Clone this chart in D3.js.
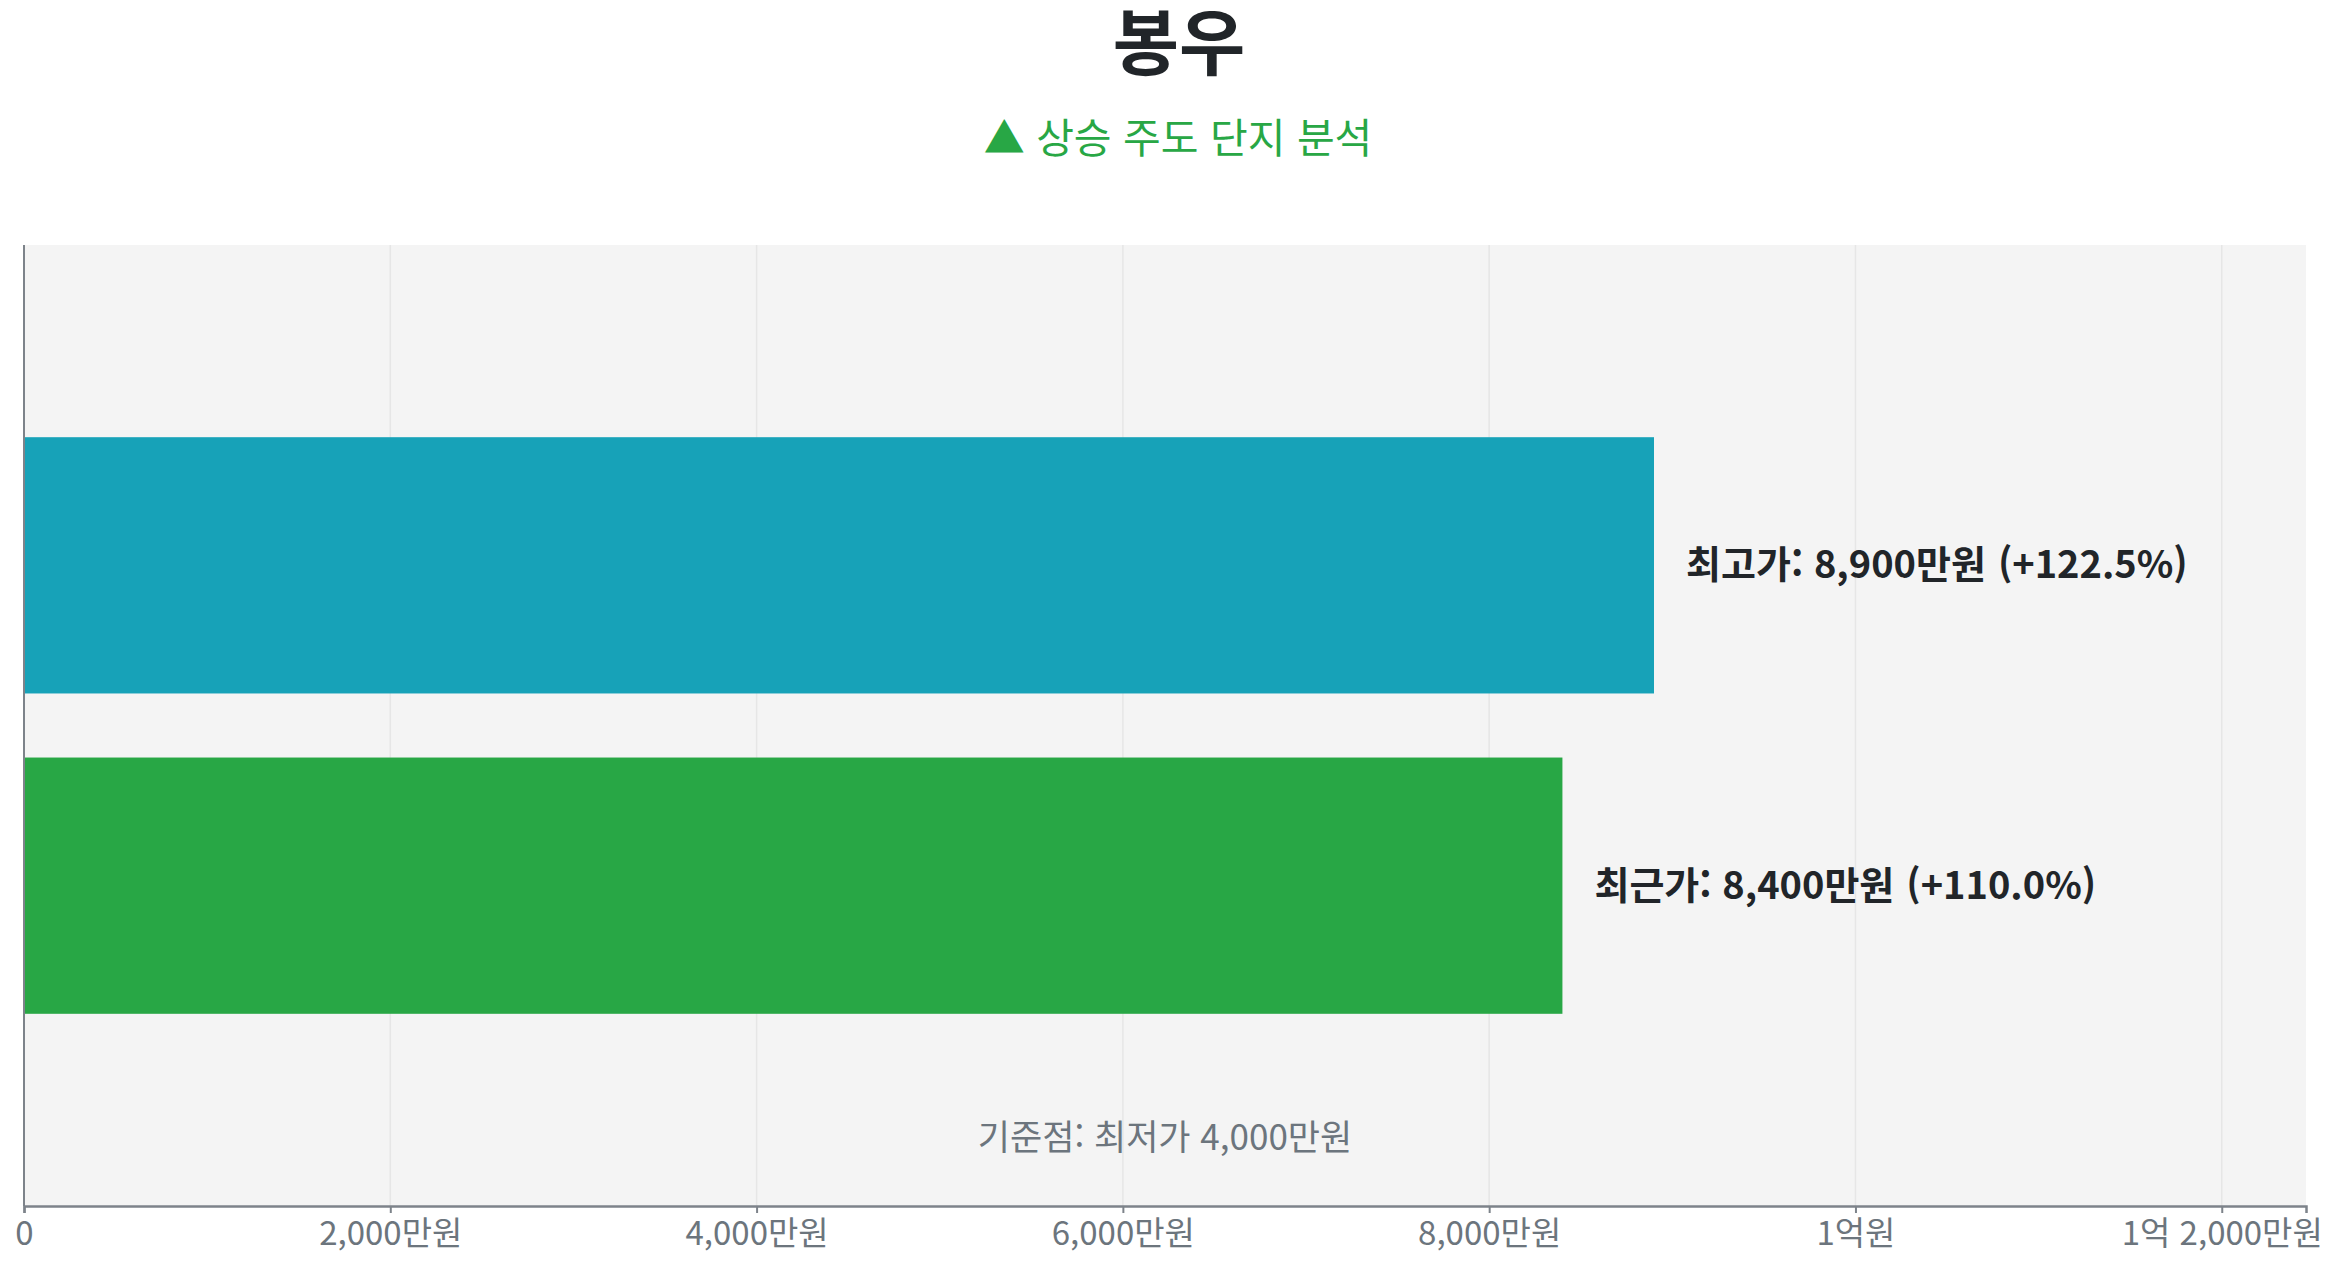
<!DOCTYPE html>
<html lang="ko">
<head>
<meta charset="utf-8">
<script src="https://cdn.jsdelivr.net/npm/d3@7"></script>
<style>
  html, body { margin: 0; padding: 0; background: #ffffff; }
  svg { display: block; }
  text { font-family: "Noto Sans CJK KR", "Noto Sans", sans-serif; }
</style>
</head>
<body>
<svg id="chart" width="2342" height="1268"></svg>
<script>
// ---- data ----
const titleText = "봉우";
const subtitleText = "▲ 상승 주도 단지 분석";
const categories = ["최고가", "최근가"];
const values = [8900, 8400];
const barColors = ["#17a2b8", "#28a745"];
const baseLabel = "최저가";
const baseValue = 4000;
const tickValues = [0, 2000, 4000, 6000, 8000, 10000, 12000];

// ---- layout ----
const W = 2342, H = 1268;
const plot = { left: 24, right: 2306, top: 245, bottom: 1206 };

const svg = d3.select("#chart");

const fmt = d3.format(",");
function won(v) {
  if (v === 0) return "0";
  const eok = Math.floor(v / 10000);
  const man = v % 10000;
  if (eok === 0) return fmt(man) + "만원";
  if (man === 0) return eok + "억원";
  return eok + "억 " + fmt(man) + "만원";
}

const x = d3.scaleLinear()
  .domain([0, d3.max(values) * 1.4])
  .range([plot.left, plot.right]);

const y = d3.scaleBand()
  .domain(categories)
  .range([plot.top, plot.bottom])
  .paddingInner(0.2)
  .paddingOuter(0.6);

// background
svg.append("rect")
  .attr("x", plot.left).attr("y", plot.top)
  .attr("width", plot.right - plot.left)
  .attr("height", plot.bottom - plot.top)
  .attr("fill", "#f4f4f4");

// grid
svg.append("g")
  .selectAll("line")
  .data(tickValues)
  .join("line")
  .attr("x1", d => x(d)).attr("x2", d => x(d))
  .attr("y1", plot.top).attr("y2", plot.bottom)
  .attr("stroke", "#e6e6e6")
  .attr("stroke-width", 1.5);

// bars
svg.append("g")
  .selectAll("rect")
  .data(values)
  .join("rect")
  .attr("x", x(0))
  .attr("y", (d, i) => y(categories[i]))
  .attr("width", d => x(d) - x(0))
  .attr("height", y.bandwidth())
  .attr("fill", (d, i) => barColors[i]);

// value labels
const lbl = svg.append("g")
  .selectAll("text")
  .data(values)
  .join("text")
  .attr("x", d => x(d) + 32)
  .attr("y", (d, i) => y(categories[i]) + y.bandwidth() / 2 - 4)
  .attr("dominant-baseline", "central")
  .attr("font-size", 38)
  .attr("font-weight", "bold")
  .attr("fill", "#212529");
lbl.append("tspan").text((d, i) => categories[i] + ": " + won(d));
lbl.append("tspan")
  .attr("dx", 12)
  .text(d => "(+" + ((d - baseValue) / baseValue * 100).toFixed(1) + "%)");

// base note
svg.append("text")
  .attr("x", (plot.left + plot.right) / 2)
  .attr("y", 1150)
  .attr("text-anchor", "middle")
  .attr("font-size", 35)
  .attr("fill", "#6c757d")
  .text("기준점: " + baseLabel + " " + won(baseValue));

// y axis line
svg.append("line")
  .attr("x1", plot.left).attr("x2", plot.left)
  .attr("y1", plot.top).attr("y2", plot.bottom)
  .attr("stroke", "#7d838a").attr("stroke-width", 2);

// x axis
const xAxis = d3.axisBottom(x)
  .tickValues(tickValues)
  .tickFormat(won)
  .tickSize(7)
  .tickPadding(9);
const gx = svg.append("g")
  .attr("transform", `translate(0,${plot.bottom})`)
  .call(xAxis);
gx.select(".domain").attr("stroke", "#7d838a").attr("stroke-width", 2.5);
gx.selectAll(".tick line").attr("stroke", "#7d838a").attr("stroke-width", 2);
gx.selectAll(".tick text")
  .attr("fill", "#6c757d")
  .attr("font-size", 33)
  .attr("font-family", "\"Noto Sans CJK KR\", sans-serif");

// title
svg.append("text")
  .attr("x", 1179).attr("y", 69)
  .attr("text-anchor", "middle")
  .attr("font-size", 72)
  .attr("font-weight", "bold")
  .attr("fill", "#212529")
  .text(titleText);

svg.append("text")
  .attr("x", 1178).attr("y", 153)
  .attr("text-anchor", "middle")
  .attr("font-size", 41)
  .attr("fill", "#28a745")
  .text(subtitleText);
</script>
</body>
</html>
